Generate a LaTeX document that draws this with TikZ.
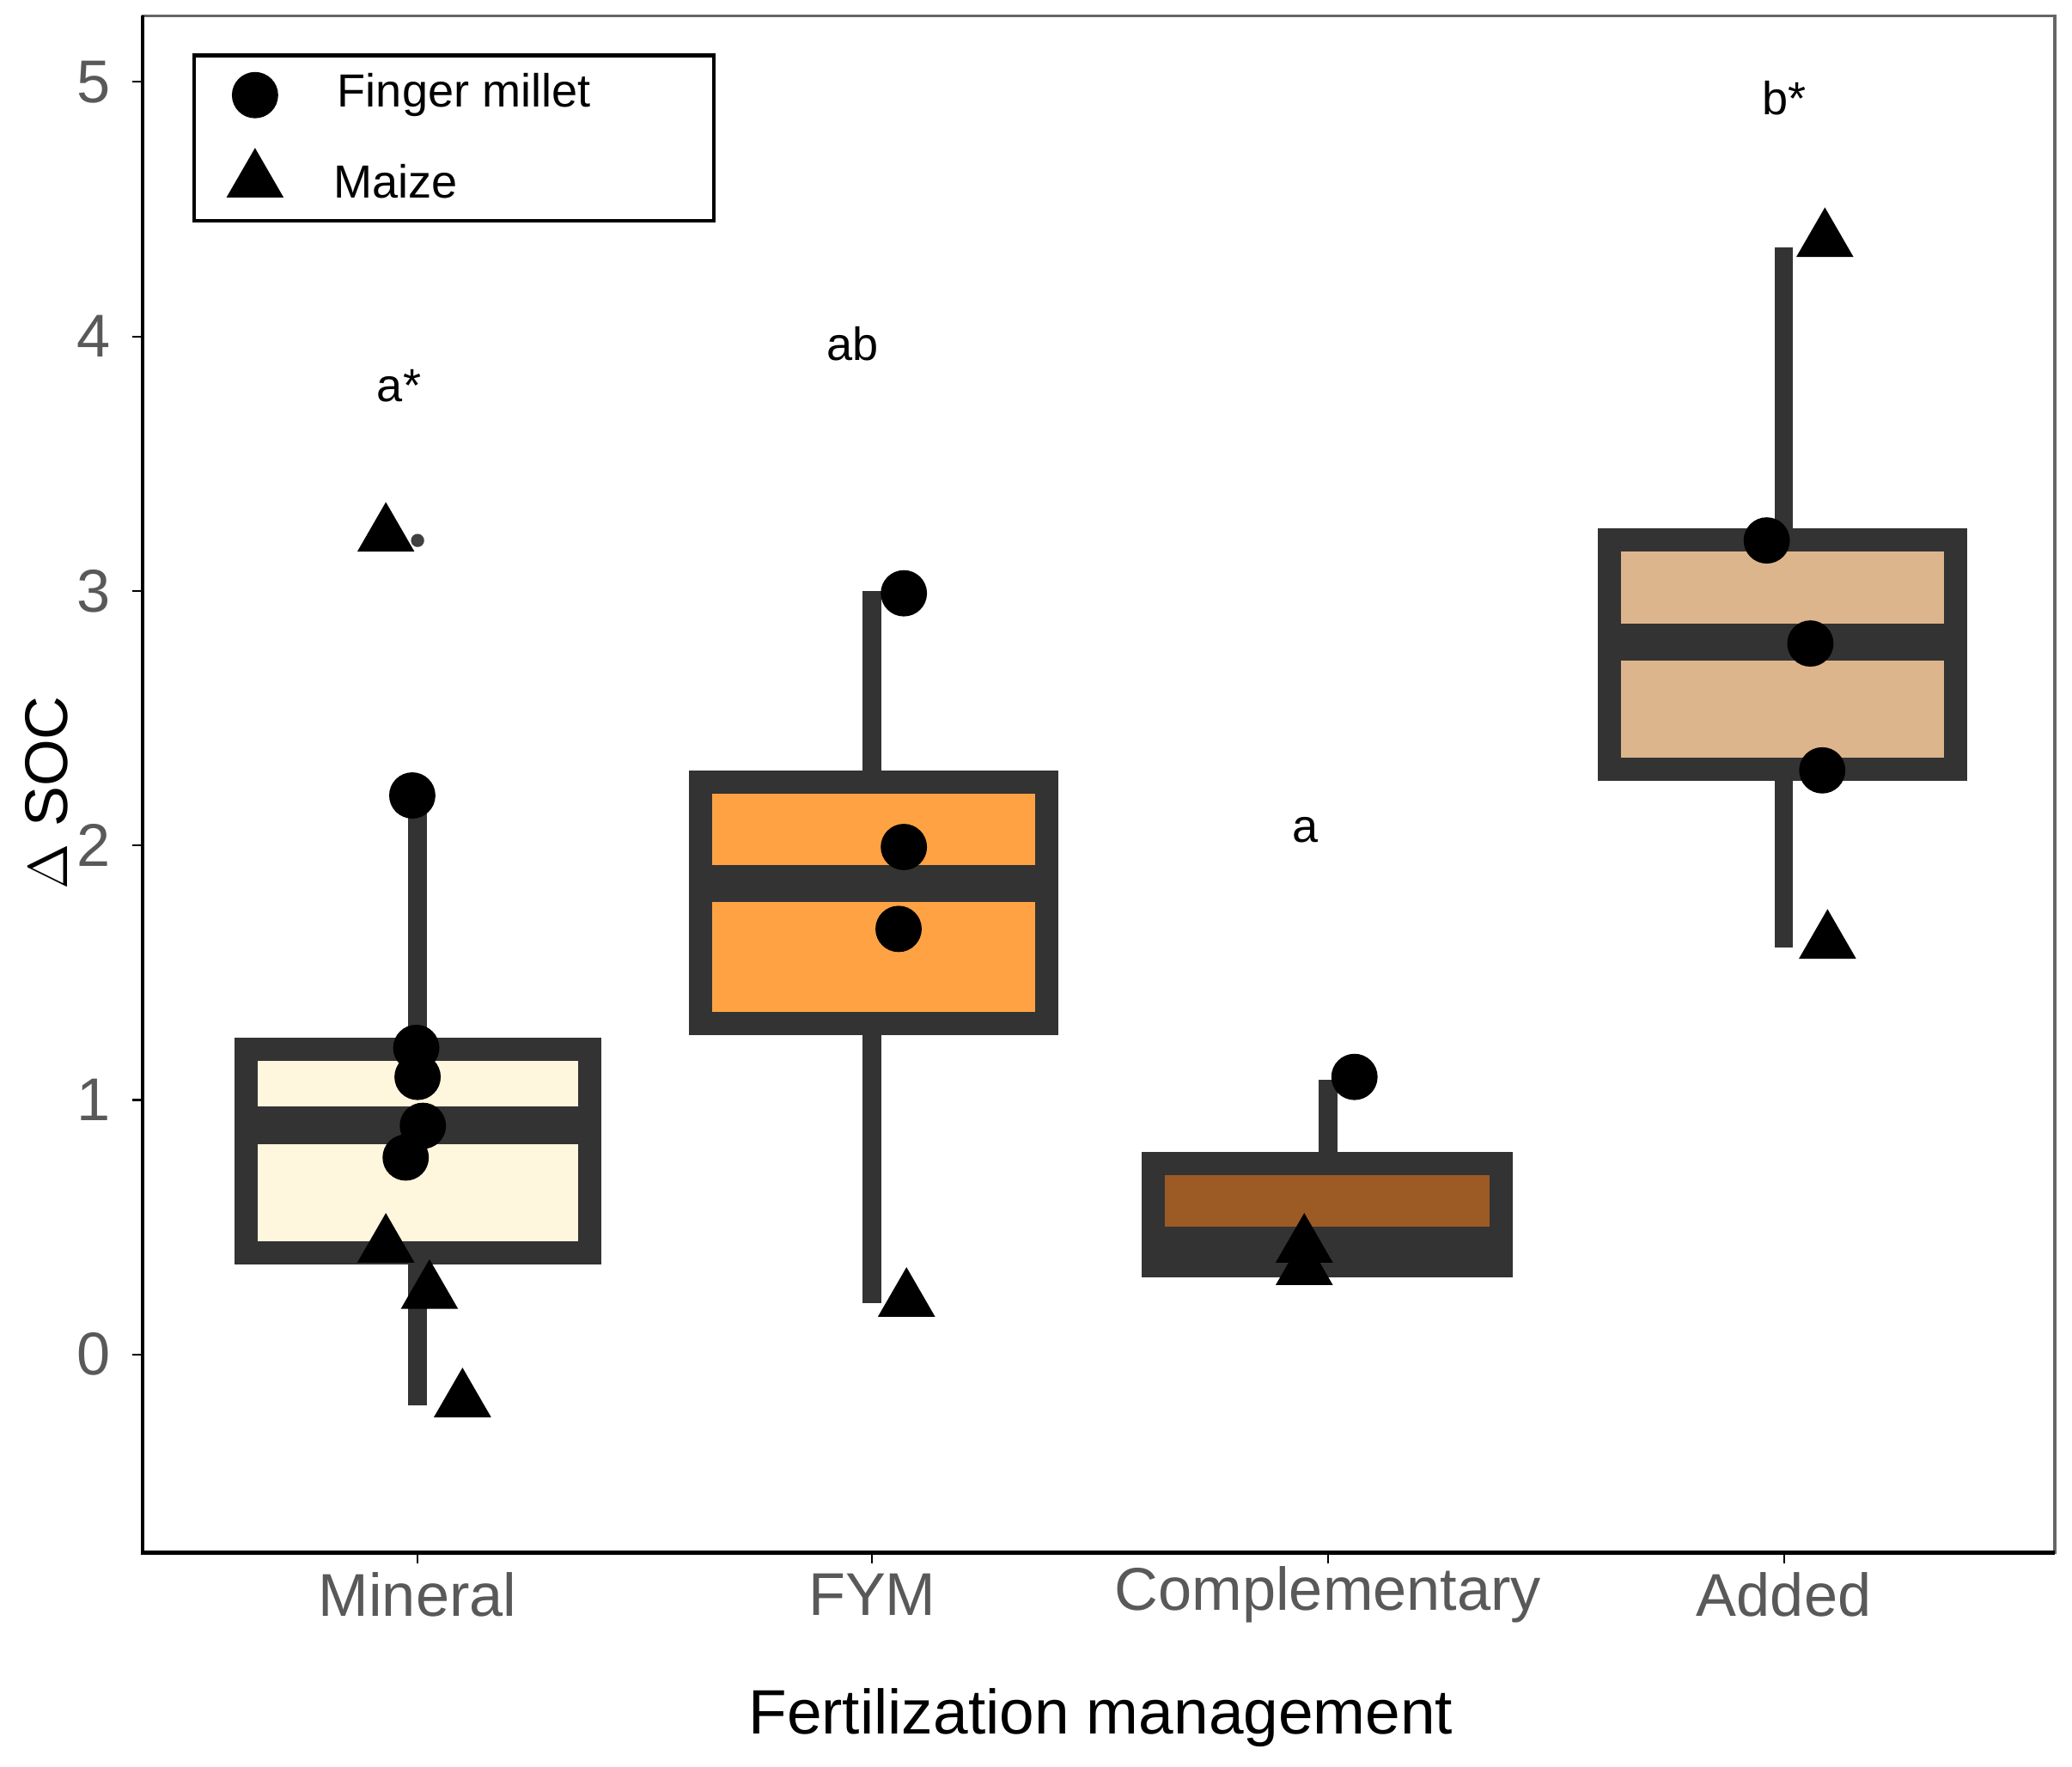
\documentclass[tikz,border=0pt]{standalone}
\usepackage{fontspec}
\setmainfont{Liberation Sans}
\usetikzlibrary{shapes.geometric}
\definecolor{minfill}{HTML}{FFF6DE}
\definecolor{fymfill}{HTML}{FFA244}
\definecolor{comfill}{HTML}{9C5B24}
\definecolor{addfill}{HTML}{DDB58C}
\definecolor{boxline}{HTML}{333333}
\tikzset{
  box/.style={draw=boxline,line width=5pt},
  whisk/.style={draw=boxline,line width=4pt},
  fm/.style={circle,fill=black,inner sep=0pt,minimum size=0.35cm},
  mz/.style={regular polygon,regular polygon sides=3,fill=black,inner sep=0pt,minimum size=0.5cm},
  tick/.style={font=\fontsize{13}{15}\selectfont,text=black!65},
  sig/.style={font=\fontsize{10}{12}\selectfont}
}
\newcommand{\Yv}[1]{1025-192.6*#1}
\begin{document}
\begin{tikzpicture}[x=0.01cm,y=-0.01cm]
\useasboundingbox (0,0) rectangle (1568,1337);
% frame
\draw[black!60,line width=0.6pt] (108,12) rectangle (1555,1175);
\draw[black,line width=0.8pt] (108,12) -- (108,1175) -- (1555,1175);
% y axis
\foreach \v in {0,...,5} {
  \draw (100,{\Yv{\v}}) -- (108,{\Yv{\v}});
  \node[tick,anchor=east] (ylab\v) at (96,{\Yv{\v}}) {\v};
}
\node[font=\fontsize{13}{15}\selectfont,rotate=90] (ytitle) at (35,600) {$\Delta$ SOC};
% x axis
\foreach \x/\n/\t in {316/min/Mineral,660/fym/FYM,1005/com/Complementary,1350/add/Added} {
  \draw (\x,1175) -- (\x,1183);
  \node[tick] (xlab\n) at (\x,1207) {\t};
}
\node[font=\fontsize{13.5}{16}\selectfont] (xtitle) at (833,1300) {Fertilization management};
% boxes
\draw[whisk] (316,{\Yv{2.2}}) -- (316,{\Yv{-0.2}});
\filldraw[box,fill=minfill] (186,{\Yv{0.4}}) rectangle (446,{\Yv{1.2}});
\draw[box,line width=8pt] (186,{\Yv{0.9}}) -- (446,{\Yv{0.9}});
\draw[whisk] (660,{\Yv{3.0}}) -- (660,{\Yv{0.2}});
\filldraw[box,fill=fymfill] (530,{\Yv{1.3}}) rectangle (792,{\Yv{2.25}});
\draw[box,line width=8pt] (530,{\Yv{1.85}}) -- (792,{\Yv{1.85}});
\draw[whisk] (1005,{\Yv{1.08}}) -- (1005,{\Yv{0.75}});
\filldraw[box,fill=comfill] (873,{\Yv{0.35}}) rectangle (1136,{\Yv{0.75}});
\draw[box,line width=8pt] (873,{\Yv{0.43}}) -- (1136,{\Yv{0.43}});
\draw[whisk] (1350,{\Yv{4.35}}) -- (1350,{\Yv{1.6}});
\filldraw[box,fill=addfill] (1218,{\Yv{2.3}}) rectangle (1480,{\Yv{3.2}});
\draw[box,line width=8pt] (1218,{\Yv{2.8}}) -- (1480,{\Yv{2.8}});
% points
\fill[black!75] (316,409) circle (5);
\foreach \p/\q [count=\i] in {312/602,315/793,316/815,320/852,307/876,684/449,684/641,680/703,1025/815,1337/409,1370/487,1379/583}
  \node[fm] (fm\i) at (\p,\q) {};
\foreach \p/\q [count=\i] in {292/405,292/943,325/978,350/1060,686/984,987/943,987/960,1381/182,1383/713}
  \node[mz] (mz\i) at (\p,\q) {};
% significance letters
\node[sig] (sigmin) at (302,292) {a*};
\node[sig] (sigfym) at (645,260) {ab};
\node[sig] (sigcom) at (988,628) {a};
\node[sig] (sigadd) at (1350,74) {b*};
% legend
\draw[line width=0.8pt] (147,42) rectangle (540,167);
\node[fm] (legfm) at (193,72) {};
\node[mz] (legmz) at (193,137) {};
\node[sig,anchor=west] (legfmt) at (243,72) {Finger millet};
\node[sig,anchor=west] (legmzt) at (240,137) {Maize};
\end{tikzpicture}
\end{document}
